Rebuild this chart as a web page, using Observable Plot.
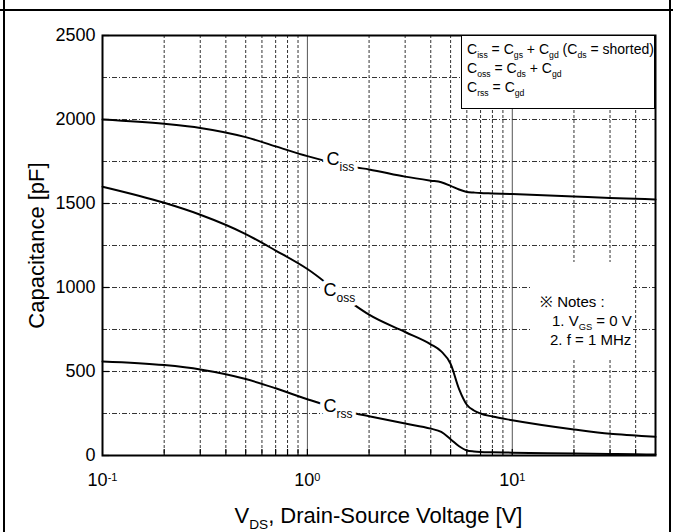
<!DOCTYPE html>
<html><head><meta charset="utf-8">
<script src="https://cdn.jsdelivr.net/npm/d3@7"></script>
<script src="https://cdn.jsdelivr.net/npm/@observablehq/plot@0.6"></script>
<style>
body{margin:0;background:#fff;}
#wrap{position:relative;width:673px;height:532px;overflow:hidden;font-family:"Liberation Sans Narrow","Liberation Sans",Arial,sans-serif;color:#000;}
.hl{position:absolute;left:0;top:9px;width:673px;height:2px;background:#000;}
.vl{position:absolute;top:0;width:2px;height:532px;background:#000;}
#chart{position:absolute;left:0;top:0;}
#legend{position:absolute;left:461px;top:35px;width:194px;height:74px;box-sizing:border-box;border:1.5px solid #000;background:#fff;font-size:14px;line-height:19px;padding:4px 0 0 5px;white-space:nowrap;}
#notes{position:absolute;left:530px;top:262px;width:103px;height:98px;background:#fff;font-size:15px;line-height:19px;padding-top:30px;box-sizing:border-box;white-space:nowrap;}
#xtitle{position:absolute;left:102px;width:553px;top:504px;text-align:center;font-size:22px;line-height:24px;}
sub{font-size:62%;vertical-align:-0.45em;line-height:0;}
</style></head>
<body>
<div id="wrap">
  <div id="chart"></div>
  <div class="hl"></div>
  <div class="vl" style="left:3px"></div>
  <div class="vl" style="left:669px"></div>
  <div id="legend">
    <div>C<sub>iss</sub> = C<sub>gs</sub> + C<sub>gd</sub> (C<sub>ds</sub> = shorted)</div>
    <div>C<sub>oss</sub> = C<sub>ds</sub> + C<sub>gd</sub></div>
    <div>C<sub>rss</sub> = C<sub>gd</sub></div>
  </div>
  <div id="notes">
    <div style="padding-left:10px">※ Notes :</div>
    <div style="padding-left:22px">1. V<sub>GS</sub> = 0 V</div>
    <div style="padding-left:20px">2. f = 1 MHz</div>
  </div>
  <div id="xtitle">V<sub>DS</sub>, Drain-Source Voltage [V]</div>
</div>
<script>
// Drain-source voltage samples (V)
const vds  = [0.1, 0.2, 0.3, 0.5, 0.7, 1, 1.7, 2, 3, 4, 4.5, 5, 5.5, 6, 6.5, 7, 8, 10, 20, 30, 40, 50];
// Capacitances (pF)
const ciss = [2000, 1974, 1950, 1895, 1840, 1782, 1716, 1703, 1660, 1636, 1627, 1605, 1583, 1569, 1565, 1562, 1560, 1556, 1542, 1533, 1528, 1524];
const coss = [1600, 1504, 1433, 1318, 1220, 1110, 895, 838, 735, 662, 620, 545, 395, 302, 268, 250, 232, 210, 155, 129, 119, 111];
const crss = [560, 538, 512, 455, 400, 335, 252, 234, 190, 160, 140, 97, 55, 30, 24, 21, 19, 17, 12, 9, 7, 6];
const seriesNames = ["Ciss", "Coss", "Crss"];
// Curve labels
const labelMain = ["C", "C", "C"];
const labelSub = ["iss", "oss", "rss"];
const labelX = [1.24, 1.2, 1.2];
const labelY = [1762, 982, 292];
// Axis ticks
const xTickValues = [0.1, 1, 10];
const xMinor = [0.2, 0.3, 0.4, 0.5, 0.6, 0.7, 0.8, 0.9, 2, 3, 4, 5, 6, 7, 8, 9, 20, 30, 40];
const xDecades = [1, 10];
const yTickValues = [0, 500, 1000, 1500, 2000, 2500];
const yGrid = [250, 500, 750, 1000, 1250, 1500, 1750, 2000, 2250];

const seriesValues = [ciss, coss, crss];
const rows = seriesNames.flatMap((s, k) => vds.map((v, i) => ({s, v, c: seriesValues[k][i]})));
const labels = labelMain.map((m, i) => ({m, sub: labelSub[i], x: labelX[i], y: labelY[i]}));

const mainText = {x: "x", y: "y", text: "m", textAnchor: "start", fontSize: 18};
const subText = {x: "x", y: "y", text: "sub", dx: 13, dy: 8, textAnchor: "start", fontSize: 12};

const plot = Plot.plot({
  width: 673, height: 532,
  marginLeft: 102, marginRight: 18, marginTop: 35, marginBottom: 77,
  style: {fontFamily: "'Liberation Sans Narrow','Liberation Sans',Arial,sans-serif", fontSize: "18px", background: "transparent", color: "#000"},
  x: {type: "log", domain: [0.1, 50]},
  y: {domain: [0, 2500]},
  marks: [
    Plot.gridX(xMinor, {stroke: "#333", strokeOpacity: 1, strokeDasharray: "3,2"}),
    Plot.gridX(xDecades, {stroke: "#555", strokeOpacity: 1}),
    Plot.gridY(yGrid, {stroke: "#333", strokeOpacity: 1, strokeDasharray: "5,2,1,2"}),
    Plot.tickX(xMinor.concat(xDecades), {x: d => d, insetTop: 414, stroke: "#000", strokeWidth: 1.2}),
    Plot.tickY(yTickValues, {y: d => d, insetRight: 546, stroke: "#000", strokeWidth: 1.2}),
    Plot.line(rows, {x: "v", y: "c", z: "s", stroke: "#000", strokeWidth: 2, curve: "monotone-x"}),
    // white halos first, then the glyphs
    Plot.text(labels, {...mainText, fill: "#fff", stroke: "#fff", strokeWidth: 9}),
    Plot.text(labels, {...subText, fill: "#fff", stroke: "#fff", strokeWidth: 8}),
    Plot.text(labels, {...mainText, fill: "#000"}),
    Plot.text(labels, {...subText, fill: "#000"}),
    Plot.frame({stroke: "#000", strokeWidth: 2}),
    Plot.axisX(xTickValues, {tickSize: 0, tickPadding: 18, tickFormat: d => String(Math.round(Math.log10(d))), label: null}),
    Plot.axisY(yTickValues, {tickSize: 0, tickPadding: 7, tickFormat: d => String(d), label: "Capacitance [pF]", labelAnchor: "center", labelArrow: "none", labelOffset: 74})
  ]
});
document.getElementById("chart").appendChild(plot);

const svg = d3.select(plot);
svg.selectAll('g[aria-label="x-axis tick label"] text').each(function () {
  const e = this.textContent.replace("\u2212", "-");
  const t = d3.select(this);
  t.text("");
  t.append("tspan").text("10");
  t.append("tspan").attr("dy", "-0.5em").style("font-size", "11px").text(e);
});
svg.selectAll('g[aria-label="y-axis label"] text').each(function () {
  this.textContent = this.textContent.replace(/[\u2190-\u2193]/g, "").trim();
}).style("font-size", "22px");
</script>
</body></html>
